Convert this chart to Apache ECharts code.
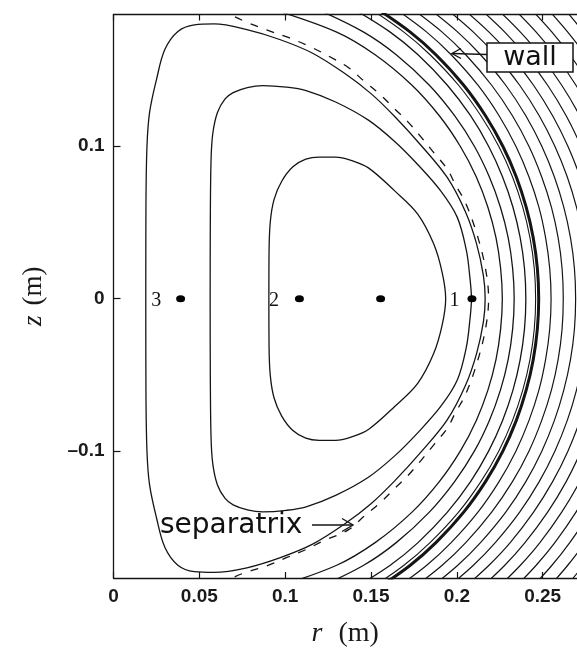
<!DOCTYPE html>
<html><head><meta charset="utf-8">
<script src="https://cdn.jsdelivr.net/npm/echarts@6/dist/echarts.min.js"></script>
<style>html,body{margin:0;padding:0;background:#fff}#c{width:577px;height:653px}</style>
</head><body><div id="c"></div>
<script>
// ---- tick labels ----
const xTicks = [0, 0.05, 0.1, 0.15, 0.2, 0.25];
const zTicks = [-0.1, 0, 0.1];

// ---- closed flux surfaces, [r, z] (m) ----
const surface1 = [[0.0905,0],[0.0906,0.03],[0.0913,0.05],[0.0935,0.065],[0.098,0.077],[0.1045,0.0865],[0.112,0.0915],[0.1198,0.0929],[0.1294,0.0929],[0.139,0.0905],[0.1485,0.0858],[0.1638,0.0707],[0.1772,0.0555],[0.1865,0.036],[0.1915,0.017],[0.1935,0],
  [0.1915,-0.017],[0.1865,-0.036],[0.1772,-0.0555],[0.1638,-0.0707],[0.1485,-0.0858],[0.139,-0.0905],[0.1294,-0.0929],[0.1198,-0.0929],[0.112,-0.0915],[0.1045,-0.0865],[0.098,-0.077],[0.0935,-0.065],[0.0913,-0.05],[0.0906,-0.03],[0.0905,0]];
const surface2 = [[0.0563,0],[0.0564,0.05],[0.0568,0.09],[0.0578,0.108],[0.0605,0.122],[0.065,0.131],[0.0697,0.1352],[0.078,0.1385],[0.0869,0.1398],[0.1007,0.1388],[0.1122,0.1365],[0.1294,0.129],[0.1485,0.1171],[0.1638,0.1031],[0.1772,0.088],[0.1906,0.0707],[0.2002,0.0535],[0.2055,0.032],[0.2075,0.015],[0.2085,0],
  [0.2075,-0.015],[0.2055,-0.032],[0.2002,-0.0535],[0.1906,-0.0707],[0.1772,-0.088],[0.1638,-0.1031],[0.1485,-0.1171],[0.1294,-0.129],[0.1122,-0.1365],[0.1007,-0.1388],[0.0869,-0.1398],[0.078,-0.1385],[0.0697,-0.1352],[0.065,-0.131],[0.0605,-0.122],[0.0578,-0.108],[0.0568,-0.09],[0.0564,-0.05],[0.0563,0]];
const surface3 = [[0.0188,0],[0.0189,0.06],[0.0195,0.1],[0.021,0.122],[0.0251,0.144],[0.0299,0.1634],[0.0375,0.1753],[0.0471,0.1796],[0.0586,0.1802],[0.0777,0.1765],[0.0968,0.1700],[0.116,0.1610],[0.135,0.1475],[0.15,0.1345],[0.1638,0.1195],[0.1792,0.1005],[0.1944,0.0795],[0.205,0.057],[0.2115,0.036],[0.2155,0.015],[0.2165,0],
  [0.2155,-0.015],[0.2115,-0.036],[0.205,-0.057],[0.1944,-0.0795],[0.1792,-0.1005],[0.1638,-0.1195],[0.15,-0.1345],[0.135,-0.1475],[0.116,-0.1610],[0.0968,-0.1700],[0.0777,-0.1765],[0.0586,-0.1795],[0.0471,-0.179],[0.0375,-0.1748],[0.0299,-0.163],[0.0251,-0.144],[0.021,-0.122],[0.0195,-0.1],[0.0189,-0.06],[0.0188,0]];
// ---- separatrix (dashed) ----
const separatrix = [[0.062,0.19],[0.0674,0.1867],[0.0768,0.1817],[0.0892,0.1763],[0.1026,0.1710],[0.1141,0.1655],[0.1255,0.1590],[0.137,0.1515],[0.1456,0.1430],[0.1552,0.1340],[0.1638,0.1245],[0.1715,0.1160],[0.1792,0.1060],[0.1868,0.0955],[0.1944,0.0850],[0.1993,0.0745],[0.205,0.063],[0.2115,0.043],[0.2165,0.021],[0.2185,0],
  [0.2165,-0.021],[0.2115,-0.043],[0.205,-0.063],[0.1993,-0.0745],[0.1944,-0.0850],[0.1868,-0.0955],[0.1792,-0.1060],[0.1715,-0.1160],[0.1638,-0.1245],[0.1552,-0.1340],[0.1456,-0.1430],[0.137,-0.1515],[0.1218,-0.1591],[0.1122,-0.1645],[0.1007,-0.1699],[0.0892,-0.1753],[0.0758,-0.18],[0.0674,-0.1845],[0.062,-0.19]];

// ---- open field lines outside the separatrix: r (m) at each z level ----
const zLevels = [0.19,0.175,0.16,0.14,0.12,0.10,0.08,0.06,0.04,0.02,0,-0.02,-0.04,-0.06,-0.08,-0.10,-0.12,-0.14,-0.16,-0.175,-0.19];
const line1 = [0.0921,0.1297,0.1524,0.1739,0.1898,0.2020,0.2113,0.2181,0.2228,0.2255,0.2265,0.2255,0.2228,0.2181,0.2113,0.2020,0.1898,0.1739,0.1524,0.1297,0.0921];
const line2 = [0.1183,0.1455,0.1647,0.1840,0.1987,0.2102,0.2189,0.2254,0.2299,0.2325,0.2334,0.2325,0.2299,0.2254,0.2189,0.2102,0.1987,0.1840,0.1647,0.1455,0.1183];
const line3 = [0.1398,0.1610,0.1774,0.1945,0.2080,0.2185,0.2266,0.2327,0.2369,0.2394,0.2402,0.2394,0.2369,0.2327,0.2266,0.2185,0.2080,0.1945,0.1774,0.1610,0.1398];
const wallInner = [0.1497,0.1690,0.1844,0.2010,0.2140,0.2244,0.2324,0.2384,0.2426,0.2451,0.2459,0.2451,0.2426,0.2384,0.2324,0.2244,0.2140,0.2010,0.1844,0.1690,0.1497];
const wall  = [0.1537,0.1727,0.1878,0.2040,0.2167,0.2268,0.2346,0.2404,0.2445,0.2469,0.2477,0.2469,0.2445,0.2404,0.2346,0.2268,0.2167,0.2040,0.1878,0.1727,0.1537];
const hatch1 = [0.1644,0.1823,0.1967,0.2123,0.2246,0.2344,0.2420,0.2478,0.2517,0.2541,0.2549,0.2541,0.2517,0.2478,0.2420,0.2344,0.2246,0.2123,0.1967,0.1823,0.1644];
const hatch2 = [0.1742,0.1913,0.2052,0.2203,0.2324,0.2420,0.2494,0.2551,0.2590,0.2613,0.2620,0.2613,0.2590,0.2551,0.2494,0.2420,0.2324,0.2203,0.2052,0.1913,0.1742];
const hatch3 = [0.1841,0.2004,0.2138,0.2285,0.2402,0.2495,0.2568,0.2623,0.2662,0.2685,0.2692,0.2685,0.2662,0.2623,0.2568,0.2495,0.2402,0.2285,0.2138,0.2004,0.1841];
const hatch4 = [0.1940,0.2095,0.2224,0.2366,0.2480,0.2571,0.2643,0.2697,0.2734,0.2757,0.2764,0.2757,0.2734,0.2697,0.2643,0.2571,0.2480,0.2366,0.2224,0.2095,0.1940];
const hatch5 = [0.2038,0.2186,0.2311,0.2447,0.2558,0.2647,0.2717,0.2770,0.2807,0.2828,0.2836,0.2828,0.2807,0.2770,0.2717,0.2647,0.2558,0.2447,0.2311,0.2186,0.2038];
const hatch6 = [0.2137,0.2278,0.2397,0.2529,0.2637,0.2723,0.2792,0.2843,0.2879,0.2901,0.2908,0.2901,0.2879,0.2843,0.2792,0.2723,0.2637,0.2529,0.2397,0.2278,0.2137];
const hatch7 = [0.2235,0.2369,0.2484,0.2611,0.2716,0.2800,0.2866,0.2916,0.2952,0.2972,0.2979,0.2972,0.2952,0.2916,0.2866,0.2800,0.2716,0.2611,0.2484,0.2369,0.2235];
const hatch8 = [0.2333,0.2461,0.2571,0.2694,0.2795,0.2876,0.2941,0.2990,0.3024,0.3044,0.3051,0.3044,0.3024,0.2990,0.2941,0.2876,0.2795,0.2694,0.2571,0.2461,0.2333];
const hatch9 = [0.2431,0.2553,0.2658,0.2777,0.2874,0.2953,0.3015,0.3063,0.3096,0.3117,0.3123,0.3117,0.3096,0.3063,0.3015,0.2953,0.2874,0.2777,0.2658,0.2553,0.2431];
const hatch10 = [0.2529,0.2645,0.2746,0.2859,0.2953,0.3030,0.3090,0.3137,0.3169,0.3188,0.3194,0.3188,0.3169,0.3137,0.3090,0.3030,0.2953,0.2859,0.2746,0.2645,0.2529];
const hatch11 = [0.2627,0.2737,0.2834,0.2943,0.3033,0.3107,0.3165,0.3210,0.3242,0.3260,0.3266,0.3260,0.3242,0.3210,0.3165,0.3107,0.3033,0.2943,0.2834,0.2737,0.2627];

// ---- marked points on the midplane ----
const pointR = [0.0391, 0.1083, 0.1556, 0.2088];
const pointLabels = ['3', '2', '1'];
const pointLabelR = [0.0249, 0.0935, 0.1987];

const INK = '#151515';
const toPts = rs => rs.map((r, i) => [r, zLevels[i]]);
function curve(data, w, dashed) {
  return { type: 'line', data: data, showSymbol: false, symbol: 'none', smooth: 0.35,
    clip: true, silent: true, animation: false,
    lineStyle: { color: INK, width: w, type: dashed ? [8, 9] : 'solid' } };
}
const series = [
  curve(surface1, 1.3), curve(surface2, 1.3), curve(surface3, 1.3),
  curve(separatrix, 1.3, true),
  curve(toPts(line1), 1.3), curve(toPts(line2), 1.3), curve(toPts(line3), 1.3),
  curve(toPts(wallInner), 1.1), curve(toPts(wall), 3.0)
];
[hatch1,hatch2,hatch3,hatch4,hatch5,hatch6,hatch7,hatch8,hatch9,hatch10,hatch11].forEach(h => series.push(curve(toPts(h), 1.2)));
series.push({ type: 'scatter', data: pointR.map(r => [r, 0]), symbol: 'circle', symbolSize: [9, 7],
  itemStyle: { color: '#000', opacity: 1 }, silent: true, animation: false, z: 5 });
series.push({ type: 'scatter', data: pointLabels.map((t, i) => ({ value: [pointLabelR[i], 0], name: t })),
  symbolSize: 0, silent: true, animation: false, itemStyle: { opacity: 1 },
  label: { show: true, position: 'inside', formatter: p => p.name, fontFamily: 'Liberation Serif',
    fontSize: 20, color: '#111', offset: [0, 2] } });

const tickFont = { fontFamily: 'Liberation Sans', fontSize: 19, fontWeight: 'bold', color: '#1a1a1a' };
const axisLine = { show: true, onZero: false, lineStyle: { color: INK, width: 1.3 } };
const option = {
  backgroundColor: '#fff',
  animation: false,
  grid: { left: 113.5, top: 14.5, width: 470.3, height: 571, containLabel: false },
  xAxis: [{
    type: 'value', min: 0, max: 0.27, position: 'bottom',
    axisLine: axisLine, splitLine: { show: false },
    axisTick: { show: true, inside: true, length: 6, customValues: xTicks, lineStyle: { color: INK, width: 1.2 } },
    axisLabel: Object.assign({ customValues: xTicks, margin: 9, formatter: v => String(v) }, tickFont),
    name: '{i|r}{n|(m)}', nameLocation: 'middle', nameGap: 42,
    nameTextStyle: { rich: {
      i: { fontFamily: 'Liberation Serif', fontStyle: 'italic', fontSize: 28, color: '#1a1a1a', padding: [0, 16, 0, 0] },
      n: { fontFamily: 'Liberation Serif', fontSize: 28, color: '#1a1a1a' } } }
  }, {
    type: 'value', min: 0, max: 0.27, position: 'top',
    axisLine: axisLine, splitLine: { show: false },
    axisTick: { show: true, inside: true, length: 6, customValues: xTicks, lineStyle: { color: INK, width: 1.2 } },
    axisLabel: { show: false }
  }],
  yAxis: [{
    type: 'value', min: -0.1832, max: 0.1864, position: 'left',
    axisLine: axisLine, splitLine: { show: false },
    axisTick: { show: true, inside: true, length: 7, customValues: zTicks, lineStyle: { color: INK, width: 1.2 } },
    axisLabel: Object.assign({ customValues: zTicks, margin: 9,
      formatter: v => (v < 0 ? '\u2013' + String(-v) : String(v)) }, tickFont),
    name: '{i|z}{n|(m)}', nameLocation: 'middle', nameGap: 66, nameRotate: 90,
    nameTextStyle: { rich: {
      i: { fontFamily: 'Liberation Serif', fontStyle: 'italic', fontSize: 27, color: '#1a1a1a', padding: [0, 10, 0, 0] },
      n: { fontFamily: 'Liberation Serif', fontSize: 27, color: '#1a1a1a' } } }
  }],
  series: series,
  graphic: [
    { type: 'rect', shape: { x: 487, y: 43, width: 86, height: 29 }, z: 100,
      style: { fill: '#fff', stroke: INK, lineWidth: 1.5 } },
    { type: 'text', x: 530, y: 57.5, z: 101,
      style: { text: 'wall', fill: '#111', font: '27px "DejaVu Sans"', align: 'center', verticalAlign: 'middle' } },
    { type: 'line', z: 100, shape: { x1: 487, y1: 54.5, x2: 452, y2: 53.5 }, style: { stroke: INK, lineWidth: 1.4 } },
    { type: 'polyline', z: 100, shape: { points: [[461, 48.5], [452, 53.5], [461, 58.5]] }, style: { stroke: INK, lineWidth: 1.4, fill: null } },
    { type: 'text', x: 160, y: 525.5, z: 101,
      style: { text: 'separatrix', fill: '#111', font: '28px "DejaVu Sans"', align: 'left', verticalAlign: 'middle' } },
    { type: 'line', z: 100, shape: { x1: 312, y1: 525, x2: 353, y2: 525 }, style: { stroke: INK, lineWidth: 1.4 } },
    { type: 'polyline', z: 100, shape: { points: [[342, 518.5], [353, 525], [342, 531.5]] }, style: { stroke: INK, lineWidth: 1.4, fill: null } }
  ]
};
const chart = echarts.init(document.getElementById('c'), null, { renderer: 'canvas' });
chart.setOption(option);
</script></body></html>
